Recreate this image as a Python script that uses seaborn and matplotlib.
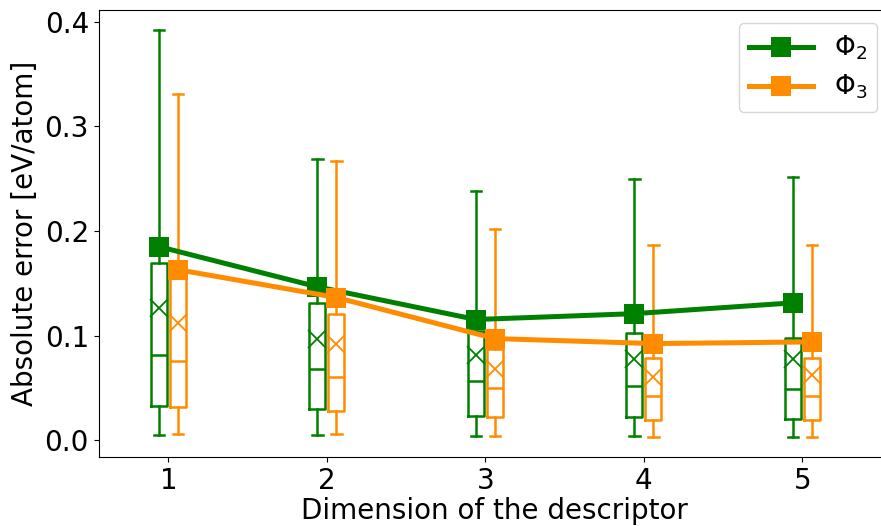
import matplotlib
matplotlib.use("Agg")
import matplotlib.pyplot as plt
import seaborn as sns
import pandas as pd
import numpy as np

plt.rcParams['font.family'] = ['DejaVu Sans']
plt.rcParams['mathtext.fontset'] = 'dejavusans'

dims = [1, 2, 3, 4, 5]
series_labels = [r'$\Phi_2$', r'$\Phi_3$']
colors = ['green', 'darkorange']

# box statistics per descriptor dimension
phi2_whislo = [0.0048, 0.0048, 0.0041, 0.0038, 0.0032]
phi2_q1     = [0.0325, 0.0296, 0.0233, 0.0223, 0.0207]
phi2_med    = [0.0813, 0.0685, 0.0567, 0.0516, 0.0494]
phi2_q3     = [0.1690, 0.1307, 0.1040, 0.1026, 0.0982]
phi2_whishi = [0.3920, 0.2690, 0.2384, 0.2500, 0.2517]
phi2_mean   = [0.1265, 0.0972, 0.0813, 0.0780, 0.0780]
phi2_line   = [0.1850, 0.1466, 0.1154, 0.1210, 0.1313]

phi3_whislo = [0.0057, 0.0057, 0.0038, 0.0032, 0.0032]
phi3_q1     = [0.0319, 0.0277, 0.0223, 0.0191, 0.0191]
phi3_med    = [0.0755, 0.0606, 0.0503, 0.0420, 0.0420]
phi3_q3     = [0.1550, 0.1205, 0.0876, 0.0787, 0.0787]
phi3_whishi = [0.3310, 0.2670, 0.2017, 0.1864, 0.1870]
phi3_mean   = [0.1120, 0.0918, 0.0685, 0.0606, 0.0621]
phi3_line   = [0.1630, 0.1364, 0.0972, 0.0924, 0.0940]

series = [
    (phi2_whislo, phi2_q1, phi2_med, phi2_q3, phi2_whishi, phi2_mean, phi2_line),
    (phi3_whislo, phi3_q1, phi3_med, phi3_q3, phi3_whishi, phi3_mean, phi3_line),
]
offsets = [-0.06, 0.06]

fig, ax = plt.subplots(figsize=(8.81, 5.26), dpi=100)
fig.subplots_adjust(left=0.112, right=1.011, bottom=0.131, top=0.981)

for (wlo, q1, med, q3, whi, mean, line), off, col, lab in zip(series, offsets, colors, series_labels):
    stats = []
    for i in range(len(dims)):
        stats.append(dict(whislo=wlo[i], q1=q1[i], med=med[i], q3=q3[i],
                          whishi=whi[i], mean=mean[i], fliers=[]))
    pos = [d + off for d in dims]
    ax.bxp(stats, positions=pos, widths=0.1, showmeans=True, showfliers=False,
           capwidths=0.065, manage_ticks=False,
           boxprops=dict(color=col, linewidth=1.8),
           whiskerprops=dict(color=col, linewidth=1.8),
           capprops=dict(color=col, linewidth=1.8),
           medianprops=dict(color=col, linewidth=1.8),
           meanprops=dict(marker='x', markeredgecolor=col, markersize=13,
                          markeredgewidth=1.3))
    df = pd.DataFrame({'x': pos, 'y': line})
    sns.lineplot(data=df, x='x', y='y', ax=ax, color=col, linewidth=3.6,
                 marker='s', markersize=14, markeredgewidth=0, label=lab,
                 zorder=5)

ax.set_xlim(0.56, 5.557)
ax.set_ylim(-0.016, 0.411)
ax.set_xticks(dims)
ax.set_xticklabels([str(d) for d in dims])
ax.set_yticks([0.0, 0.1, 0.2, 0.3, 0.4])
ax.tick_params(labelsize=20)
ax.set_xlabel('Dimension of the descriptor', fontsize=20, labelpad=1.5)
ax.set_ylabel('Absolute error [eV/atom]', fontsize=20)
ax.legend(loc='upper right', fontsize=19, handlelength=2.4, labelspacing=0.4)

fig.savefig('out.png', dpi=100)
